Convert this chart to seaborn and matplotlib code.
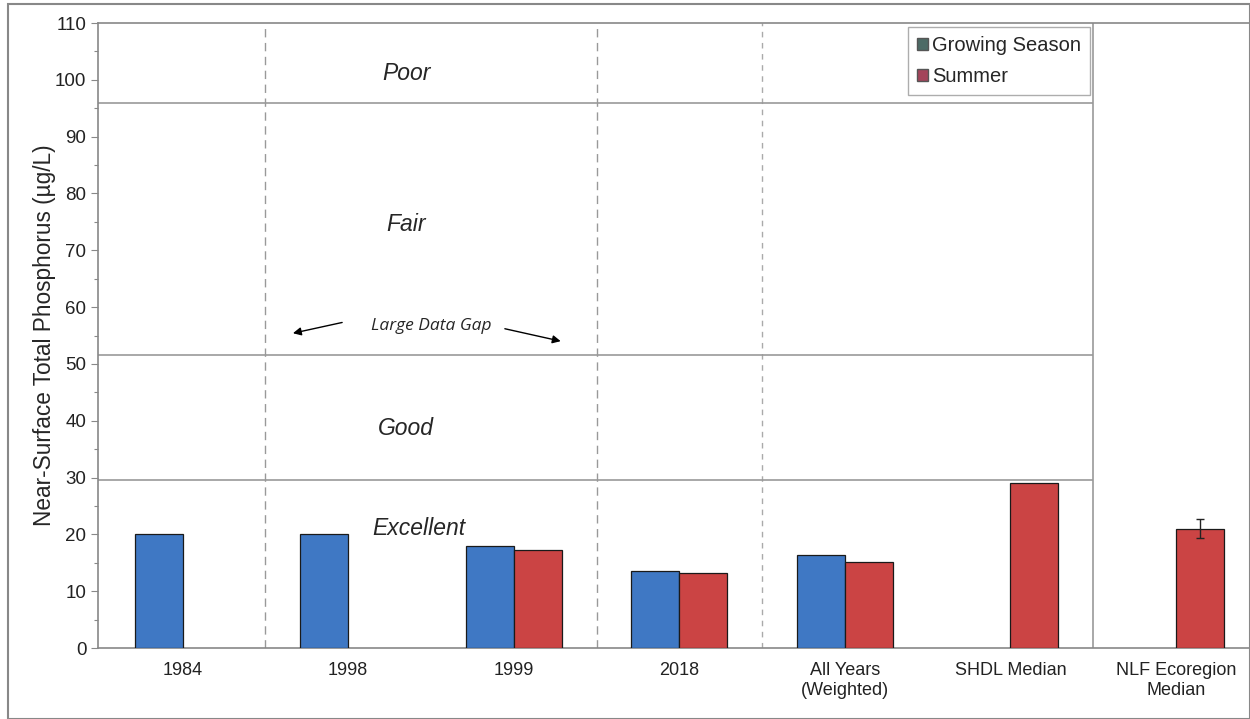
import numpy as np
import pandas as pd
import matplotlib
matplotlib.use('Agg')
import matplotlib.pyplot as plt
import matplotlib.patches as mpatches
import seaborn as sns

# data
categories = ['1984', '1998', '1999', '2018', 'All Years\n(Weighted)',
              'SHDL Median', 'NLF Ecoregion\nMedian']
growing = [20.0, 20.0, 18.0, 13.6, 16.4, np.nan, np.nan]
summer = [np.nan, np.nan, 17.2, 13.2, 15.1, 29.0, 21.0]
nlf_err = 1.7
series = ['Growing Season', 'Summer']

# trophic class boundaries and labels
boundaries = [29.6, 51.6, 96.0]
zones = ['Poor', 'Fair', 'Good', 'Excellent']
zone_y = [101.2, 74.6, 38.7, 21.1]

df = pd.DataFrame({
    'cat': categories * 2,
    'season': [series[0]] * len(categories) + [series[1]] * len(categories),
    'tp': growing + summer,
})

sns.set_style('white')
plt.rcParams['font.family'] = ['Liberation Sans', 'DejaVu Sans']

fig = plt.figure(figsize=(12.5, 7.19), dpi=100)
ax = fig.add_axes([0.078, 0.0987, 0.922, 0.8693])

sns.barplot(data=df, x='cat', y='tp', hue='season', order=categories,
            hue_order=series, palette=['#3f78c4', '#cb4444'],
            width=0.58, errorbar=None, edgecolor='#1a1a1a', linewidth=0.9,
            saturation=1, legend=False, ax=ax, zorder=3)

# error bar on the ecoregion median (rightmost summer bar)
bar = max(ax.containers[1], key=lambda p: p.get_x())
ax.errorbar(bar.get_x() + bar.get_width() / 2, bar.get_height(), yerr=nlf_err,
            fmt='none', ecolor='#222222', elinewidth=1, capsize=3, zorder=4)

ax.set_xlim(-0.514, 6.447)
ax.set_ylim(0, 110)
ax.set_yticks(np.arange(0, 111, 10))
ax.set_yticks(np.arange(0, 111, 5), minor=True)
ax.tick_params(axis='y', which='major', length=5, width=0.8, color='#888888',
               labelsize=13.5, pad=3, left=True, labelcolor='#222222')
ax.tick_params(axis='y', which='minor', length=3, width=0.8, color='#888888', left=True)
ax.tick_params(axis='x', length=0, labelsize=13, pad=10, labelcolor='#222222')
for lab in ax.get_xticklabels():
    lab.set_linespacing(1.25)
ax.set_xlabel('')
ax.set_ylabel('Near-Surface Total Phosphorus (µg/L)', fontsize=16.3, labelpad=-1)

for side in ['left', 'bottom', 'top']:
    ax.spines[side].set_color('#888888')
    ax.spines[side].set_linewidth(1.2)
ax.spines['right'].set_visible(False)

# separators between categories
ax.axvline(0.5, color='#999999', lw=1, ls=(0, (6, 4)), zorder=1)
ax.axvline(2.5, color='#999999', lw=1, ls=(0, (6, 4)), zorder=1)
ax.axvline(3.5, color='#aaaaaa', lw=1, ls=(0, (4, 4)), zorder=1)
ax.axvline(5.5, color='#999999', lw=1.2, zorder=1)
for b in boundaries:
    ax.hlines(b, -0.514, 5.5, color='#999999', lw=1.2, zorder=1)

for name, y in zip(zones, zone_y):
    x = 1.43 if name == 'Excellent' else 1.35
    ax.text(x, y, name, ha='center', va='center', fontsize=16.5, style='italic')

ax.text(1.5, 56.7, 'Large Data Gap', ha='center', va='center', fontsize=12.5,
        style='italic', family=['Open Sans', 'DejaVu Sans'])
ax.annotate('', xy=(0.65, 55.3), xytext=(0.98, 57.4),
            arrowprops=dict(arrowstyle='-|>', color='black', lw=1, mutation_scale=12))
ax.annotate('', xy=(2.3, 53.9), xytext=(1.93, 56.3),
            arrowprops=dict(arrowstyle='-|>', color='black', lw=1, mutation_scale=12))

handles = [mpatches.Patch(facecolor='#4d6b66', edgecolor='#555555', label=series[0]),
           mpatches.Patch(facecolor='#a3445a', edgecolor='#555555', label=series[1])]
leg = ax.legend(handles=handles, loc='upper right', bbox_to_anchor=(0.861, 0.994),
                fontsize=14.5, frameon=True, fancybox=False, handlelength=0.55,
                handleheight=0.55, handletextpad=0.2, borderpad=0.45, labelspacing=0.6,
                borderaxespad=0)
leg.get_frame().set_edgecolor('#999999')
leg.get_frame().set_linewidth(1)

# outer frame of the picture
fig.add_artist(mpatches.Rectangle((0.006, 0.0), 0.994, 0.994, transform=fig.transFigure,
                                  fill=False, edgecolor='#888888', lw=1.5))

fig.savefig('out.png', dpi=100)
